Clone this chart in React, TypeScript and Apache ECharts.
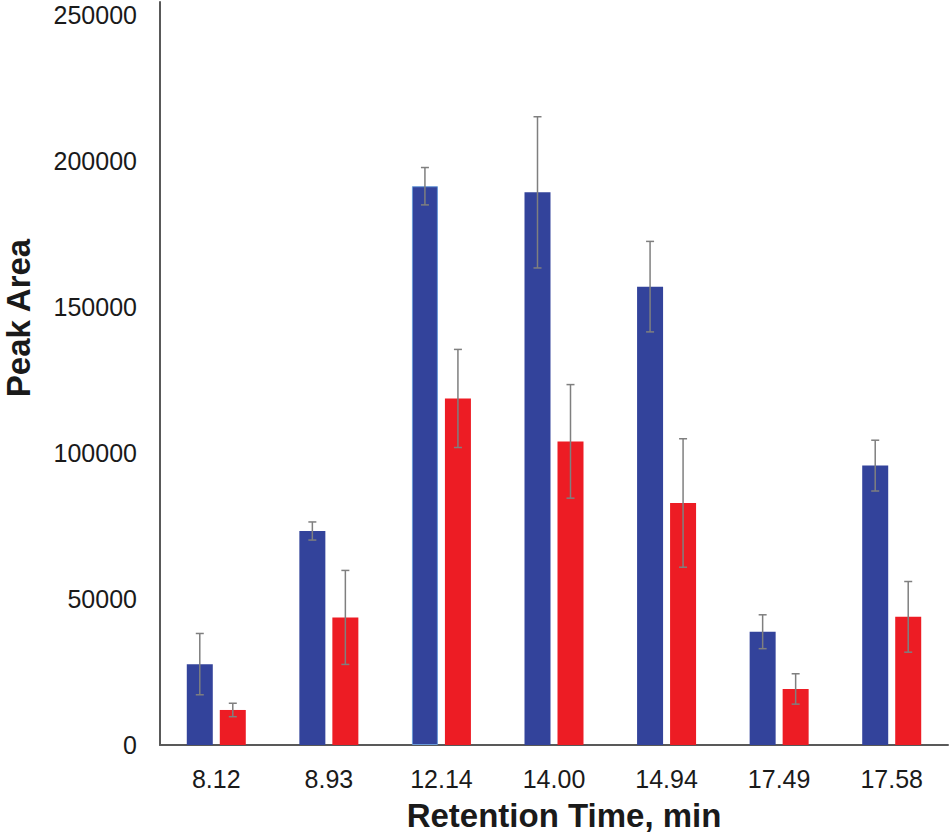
import React, { useEffect, useRef } from "react";
import * as echarts from "echarts";

const categories = ["8.12", "8.93", "12.14", "14.00", "14.94", "17.49", "17.58"];
const blueValues = [27700, 73300, 191400, 189300, 157000, 38800, 95700];
const blueErrors = [10500, 3100, 6400, 25900, 15500, 5800, 8700];
const redValues = [12000, 43700, 118700, 104000, 82900, 19200, 43900];
const redErrors = [2300, 16100, 16800, 19450, 22000, 5200, 12100];
const yTicks = [0, 50000, 100000, 150000, 200000, 250000];

const BLUE = "#33439b";
const RED = "#ed1c24";
const BAR_W = 26;
const BAR_GAP = 7;
const FONT = "'Liberation Sans', Arial, sans-serif";

function errorSeries(values: number[], errors: number[], offset: number) {
  return {
    type: "custom",
    z: 5,
    silent: true,
    data: values.map((v, i) => [i, v - errors[i], v + errors[i]]),
    renderItem: (params: any, api: any) => {
      const i = api.value(0);
      const lo = api.coord([i, api.value(1)]);
      const hi = api.coord([i, api.value(2)]);
      const x = lo[0] + offset;
      const cap = 4;
      const style = { stroke: "#7f7f7f", lineWidth: 1.5 };
      return {
        type: "group",
        children: [
          { type: "line", shape: { x1: x, y1: hi[1], x2: x, y2: lo[1] }, style },
          { type: "line", shape: { x1: x - cap, y1: hi[1], x2: x + cap, y2: hi[1] }, style },
          { type: "line", shape: { x1: x - cap, y1: lo[1], x2: x + cap, y2: lo[1] }, style },
        ],
      };
    },
  };
}

export default function App() {
  const ref = useRef<HTMLDivElement>(null);
  useEffect(() => {
    if (!ref.current) return;
    const chart = echarts.init(ref.current, undefined, { renderer: "svg" });
    const half = (BAR_W + BAR_GAP) / 2;
    chart.setOption({
      animation: false,
      backgroundColor: "#ffffff",
      grid: { left: 160, right: 2, top: 2, bottom: 95, containLabel: false },
      xAxis: {
        type: "category",
        data: categories,
        axisLine: { lineStyle: { color: "#595959", width: 2 } },
        axisTick: { show: false },
        axisLabel: { color: "#1a1a1a", fontSize: 25, fontFamily: FONT, margin: 21 },
      },
      yAxis: {
        type: "value",
        min: 0,
        max: 254500,
        interval: 50000,
        splitLine: { show: false },
        axisTick: { show: false },
        axisLine: { show: true, lineStyle: { color: "#595959", width: 2 } },
        axisLabel: {
          color: "#1a1a1a",
          fontSize: 25,
          fontFamily: FONT,
          margin: 23,
          formatter: (v: number) => (yTicks.indexOf(v) >= 0 ? String(v) : ""),
        },
      },
      graphic: [
        {
          type: "text",
          x: 18,
          y: 318,
          rotation: Math.PI / 2,
          style: {
            text: "Peak Area",
            font: `bold 33px ${FONT}`,
            fill: "#1a1a1a",
            align: "center",
            verticalAlign: "middle",
          },
        },
        {
          type: "text",
          x: 564,
          y: 815,
          style: {
            text: "Retention Time, min",
            font: `bold 33px ${FONT}`,
            fill: "#1a1a1a",
            align: "center",
            verticalAlign: "middle",
          },
        },
      ],
      series: [
        {
          type: "bar",
          data: blueValues.map((v, i) =>
            i === 2
              ? { value: v, itemStyle: { borderColor: "#6a9ad8", borderWidth: 1 } }
              : v
          ),
          barWidth: BAR_W,
          barGap: `${(BAR_GAP / BAR_W) * 100}%`,
          itemStyle: { color: BLUE },
        },
        {
          type: "bar",
          data: redValues,
          barWidth: BAR_W,
          barGap: `${(BAR_GAP / BAR_W) * 100}%`,
          itemStyle: { color: RED },
        },
        errorSeries(blueValues, blueErrors, -half),
        errorSeries(redValues, redErrors, half),
      ],
    });
    return () => chart.dispose();
  }, []);
  return (
    <div
      ref={ref}
      style={{ position: "fixed", left: 0, top: 0, width: 950, height: 840, background: "#fff" }}
    />
  );
}
